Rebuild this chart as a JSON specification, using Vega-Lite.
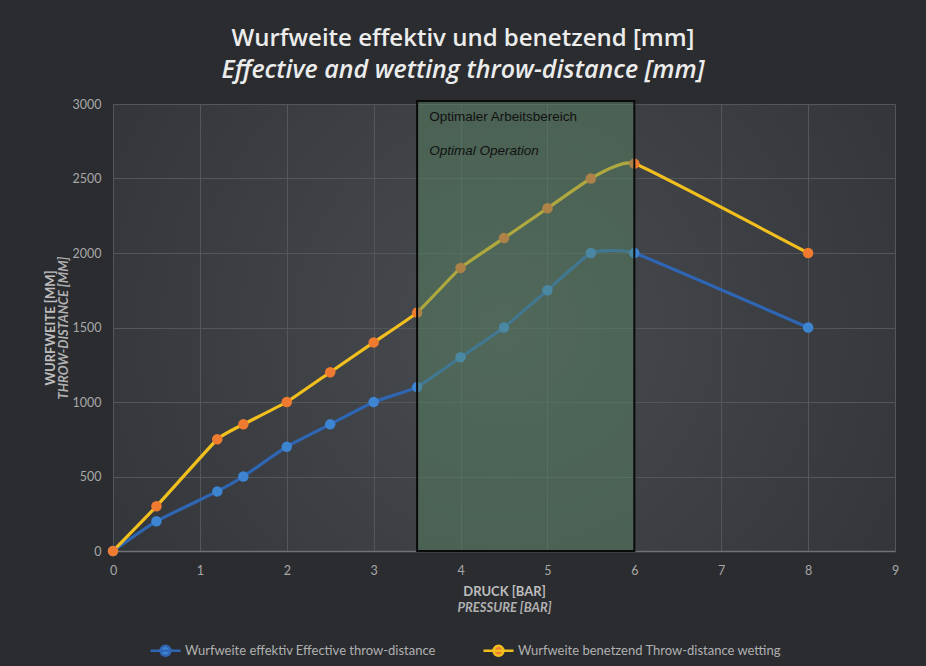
{
  "$schema": "https://vega.github.io/schema/vega-lite/v6.json",
  "width": 782,
  "height": 447,
  "autosize": {"type": "none"},
  "padding": {"left": 113, "top": 104, "right": 31, "bottom": 115},
  "background": "#2a2c30",
  "title": {
    "text": "Wurfweite effektiv und benetzend [mm]",
    "subtitle": "Effective and wetting throw-distance [mm]",
    "anchor": "middle",
    "dx": -41,
    "font": "Open Sans",
    "fontSize": 24,
    "fontWeight": 600,
    "color": "#ececec",
    "subtitleFont": "Open Sans",
    "subtitleFontSize": 25,
    "subtitleFontWeight": 600,
    "subtitleFontStyle": "italic",
    "subtitleColor": "#ececec",
    "subtitlePadding": 7,
    "offset": 15
  },
  "config": {
    "view": {
      "stroke": null,
      "fill": {
        "gradient": "radial",
        "x1": 0.5, "y1": 0.5, "x2": 0.5, "y2": 0.5,
        "r1": 0, "r2": 0.75,
        "stops": [
          {"offset": 0, "color": "#484b4f"},
          {"offset": 1, "color": "#2d2f33"}
        ]
      }
    },
    "axis": {
      "labelFont": "Lato",
      "labelFontSize": 12.5,
      "labelColor": "#a8a8a8",
      "titleFont": "Lato",
      "titleFontSize": 13,
      "titleColor": "#bdbdbd",
      "titleFontWeight": "bold",
      "gridColor": "#53565b",
      "gridWidth": 1,
      "ticks": false
    }
  },
  "datasets": {
    "series": [
      {"p": 0, "s": "Wurfweite effektiv Effective throw-distance", "v": 0},
      {"p": 0.5, "s": "Wurfweite effektiv Effective throw-distance", "v": 200},
      {"p": 1.2, "s": "Wurfweite effektiv Effective throw-distance", "v": 400},
      {"p": 1.5, "s": "Wurfweite effektiv Effective throw-distance", "v": 500},
      {"p": 2, "s": "Wurfweite effektiv Effective throw-distance", "v": 700},
      {"p": 2.5, "s": "Wurfweite effektiv Effective throw-distance", "v": 850},
      {"p": 3, "s": "Wurfweite effektiv Effective throw-distance", "v": 1000},
      {"p": 3.5, "s": "Wurfweite effektiv Effective throw-distance", "v": 1100},
      {"p": 4, "s": "Wurfweite effektiv Effective throw-distance", "v": 1300},
      {"p": 4.5, "s": "Wurfweite effektiv Effective throw-distance", "v": 1500},
      {"p": 5, "s": "Wurfweite effektiv Effective throw-distance", "v": 1750},
      {"p": 5.5, "s": "Wurfweite effektiv Effective throw-distance", "v": 2000},
      {"p": 6, "s": "Wurfweite effektiv Effective throw-distance", "v": 2000},
      {"p": 8, "s": "Wurfweite effektiv Effective throw-distance", "v": 1500},
      {"p": 0, "s": "Wurfweite benetzend Throw-distance wetting", "v": 0},
      {"p": 0.5, "s": "Wurfweite benetzend Throw-distance wetting", "v": 300},
      {"p": 1.2, "s": "Wurfweite benetzend Throw-distance wetting", "v": 750},
      {"p": 1.5, "s": "Wurfweite benetzend Throw-distance wetting", "v": 850},
      {"p": 2, "s": "Wurfweite benetzend Throw-distance wetting", "v": 1000},
      {"p": 2.5, "s": "Wurfweite benetzend Throw-distance wetting", "v": 1200},
      {"p": 3, "s": "Wurfweite benetzend Throw-distance wetting", "v": 1400},
      {"p": 3.5, "s": "Wurfweite benetzend Throw-distance wetting", "v": 1600},
      {"p": 4, "s": "Wurfweite benetzend Throw-distance wetting", "v": 1900},
      {"p": 4.5, "s": "Wurfweite benetzend Throw-distance wetting", "v": 2100},
      {"p": 5, "s": "Wurfweite benetzend Throw-distance wetting", "v": 2300},
      {"p": 5.5, "s": "Wurfweite benetzend Throw-distance wetting", "v": 2500},
      {"p": 6, "s": "Wurfweite benetzend Throw-distance wetting", "v": 2600},
      {"p": 8, "s": "Wurfweite benetzend Throw-distance wetting", "v": 2000}
    ],
    "zone": [{"a": 3.5, "b": 6, "lo": 0, "hi": 3020}],
    "notes": [
      {"p": 3.64, "v": 2910, "t": "Optimaler Arbeitsbereich", "st": "normal"},
      {"p": 3.64, "v": 2685, "t": "Optimal Operation", "st": "italic"}
    ]
  },
  "resolve": {"axis": {"x": "independent", "y": "independent"}},
  "layer": [
    {
      "data": {"name": "series"},
      "mark": {"type": "line", "interpolate": "cardinal", "tension": 0.65, "strokeWidth": 3.2},
      "encoding": {
        "x": {
          "field": "p", "type": "quantitative",
          "scale": {"domain": [0, 9], "nice": false},
          "axis": {
            "title": "DRUCK [BAR]", "orient": "bottom", "values": [0,1,2,3,4,5,6,7,8,9], "format": "d",
            "labelPadding": 13, "titlePadding": 9, "labelFlush": false,
            "domain": true, "domainColor": "#6e7175", "domainWidth": 1.5
          }
        },
        "y": {
          "field": "v", "type": "quantitative",
          "scale": {"domain": [0, 3000], "nice": false},
          "axis": {
            "title": "WURFWEITE [MM]", "orient": "left", "values": [0,500,1000,1500,2000,2500,3000], "format": "d",
            "labelPadding": 12, "titlePadding": 15, "domain": false, "labelFlush": false
          }
        },
        "stroke": {
          "field": "s", "type": "nominal",
          "scale": {
            "domain": ["Wurfweite effektiv Effective throw-distance", "Wurfweite benetzend Throw-distance wetting"],
            "range": ["#2f66b3", "#f2c01e"]
          },
          "legend": {
            "title": null,
            "orient": "none",
            "legendX": 36,
            "legendY": 530,
            "direction": "horizontal",
            "symbolType": "M-1,0L1,0M-0.33,0A0.33,0.33,0,1,0,0.33,0A0.33,0.33,0,1,0,-0.33,0Z",
            "symbolSize": 900,
            "symbolStrokeWidth": 2.5,
            "labelFont": "Lato",
            "labelFontSize": 13,
            "labelColor": "#b0b0b0",
            "labelOffset": 3,
            "columnPadding": 42,
            "labelLimit": 400
          }
        }
      }
    },
    {
      "data": {"name": "series"},
      "mark": {"type": "point", "filled": true, "size": 110, "opacity": 1},
      "encoding": {
        "x": {
          "field": "p", "type": "quantitative",
          "axis": {
            "title": "PRESSURE [BAR]", "orient": "bottom", "titleFontStyle": "italic", "titleColor": "#b0b0b0",
            "labels": false, "grid": false, "domain": false, "titlePadding": 50
          }
        },
        "y": {
          "field": "v", "type": "quantitative",
          "axis": {
            "title": "THROW-DISTANCE [MM]", "titleFontStyle": "italic", "titleColor": "#b0b0b0", "orient": "left",
            "labels": false, "grid": false, "domain": false, "titlePadding": 43
          }
        },
        "fill": {
          "field": "s", "type": "nominal",
          "scale": {
            "domain": ["Wurfweite effektiv Effective throw-distance", "Wurfweite benetzend Throw-distance wetting"],
            "range": ["#3d84d1", "#ee7b30"]
          },
          "legend": {
            "title": null,
            "orient": "none",
            "legendX": 36,
            "legendY": 530,
            "direction": "horizontal",
            "symbolType": "M-1,0L1,0M-0.33,0A0.33,0.33,0,1,0,0.33,0A0.33,0.33,0,1,0,-0.33,0Z",
            "symbolSize": 900,
            "symbolStrokeWidth": 2.5,
            "labelFont": "Lato",
            "labelFontSize": 13,
            "labelColor": "#b0b0b0",
            "labelOffset": 3,
            "columnPadding": 42,
            "labelLimit": 400
          }
        }
      }
    },
    {
      "data": {"name": "zone"},
      "mark": {"type": "rect", "fill": "#5a8c68", "fillOpacity": 0.45, "stroke": "#0a0a0a", "strokeWidth": 2, "clip": false},
      "encoding": {
        "x": {"field": "a", "type": "quantitative", "axis": null},
        "x2": {"field": "b"},
        "y": {"field": "lo", "type": "quantitative", "axis": null},
        "y2": {"field": "hi"}
      }
    },
    {
      "data": {"name": "notes"},
      "transform": [{"filter": "datum.st === 'normal'"}],
      "mark": {"type": "text", "align": "left", "baseline": "middle", "font": "Liberation Sans", "fontSize": 13.5, "color": "#111111"},
      "encoding": {
        "x": {"field": "p", "type": "quantitative", "axis": null},
        "y": {"field": "v", "type": "quantitative", "axis": null},
        "text": {"field": "t", "type": "nominal"}
      }
    },
    {
      "data": {"name": "notes"},
      "transform": [{"filter": "datum.st === 'italic'"}],
      "mark": {"type": "text", "align": "left", "baseline": "middle", "font": "Liberation Sans", "fontSize": 13.5, "fontStyle": "italic", "color": "#111111"},
      "encoding": {
        "x": {"field": "p", "type": "quantitative", "axis": null},
        "y": {"field": "v", "type": "quantitative", "axis": null},
        "text": {"field": "t", "type": "nominal"}
      }
    }
  ]
}
